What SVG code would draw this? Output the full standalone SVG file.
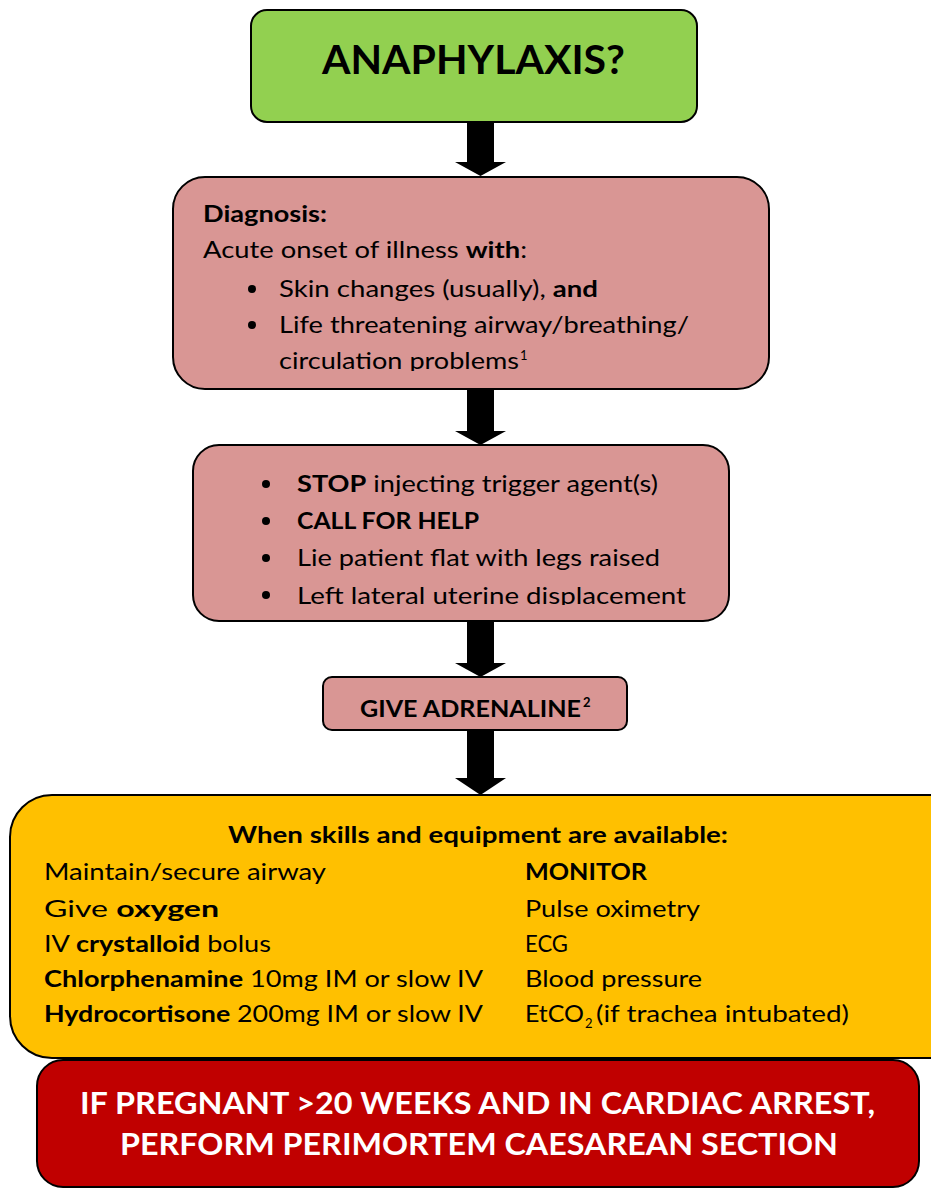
<svg xmlns="http://www.w3.org/2000/svg" width="931" height="1189" viewBox="0 0 931 1189">
<style>
.box{stroke:#000;stroke-width:2}
.t{font-family:Lato,"Liberation Sans",sans-serif;font-size:23px;fill:#000}
.b{font-weight:bold}
.w{fill:#fff}
.s{font-size:13px}
.title{font-size:41px}
.big{font-size:30px}
.mid{font-size:23px}
.arrow{fill:#000}
</style>
<defs>
<clipPath id="clip2"><rect x="173" y="177" width="596" height="194"/></clipPath>
<clipPath id="clip3"><rect x="193" y="445" width="536" height="160"/></clipPath>
</defs>
<rect width="931" height="1189" fill="#fff"/>

<g id="node-anaphylaxis">
<rect class="box" x="251" y="10" width="446" height="112" rx="16" fill="#92d050"/>
<text class="t b title" x="322" y="74" textLength="303" lengthAdjust="spacingAndGlyphs">ANAPHYLAXIS?</text>
</g>

<g id="node-diagnosis">
<rect class="box" x="173" y="177" width="596" height="212" rx="32" fill="#d99694"/>
<g clip-path="url(#clip2)">
<text class="t b" x="203" y="222" textLength="124" lengthAdjust="spacingAndGlyphs">Diagnosis:</text>
<text class="t" x="203" y="258" textLength="324" lengthAdjust="spacingAndGlyphs">Acute onset of illness <tspan class="b">with</tspan>:</text>
<circle cx="252" cy="289" r="4"/>
<text class="t" x="279" y="297" textLength="319" lengthAdjust="spacingAndGlyphs">Skin changes (usually), <tspan class="b">and</tspan></text>
<circle cx="252" cy="325" r="4"/>
<text class="t" x="279" y="333" textLength="410" lengthAdjust="spacingAndGlyphs">Life threatening airway/breathing/</text>
<text class="t" x="279" y="369" textLength="240" lengthAdjust="spacingAndGlyphs">circulation problems</text>
<text class="t s" x="520" y="360">1</text>
</g>
</g>

<g id="node-actions">
<rect class="box" x="193" y="445" width="536" height="176" rx="26" fill="#d99694"/>
<g clip-path="url(#clip3)">
<circle cx="266" cy="484" r="4"/>
<text class="t" x="297" y="492" textLength="361" lengthAdjust="spacingAndGlyphs"><tspan class="b">STOP</tspan> injecting trigger agent(s)</text>
<circle cx="266" cy="521" r="4"/>
<text class="t b" x="297" y="529" textLength="182" lengthAdjust="spacingAndGlyphs">CALL FOR HELP</text>
<circle cx="266" cy="558" r="4"/>
<text class="t" x="297" y="566" textLength="363" lengthAdjust="spacingAndGlyphs">Lie patient flat with legs raised</text>
<circle cx="266" cy="595" r="4"/>
<text class="t" x="297" y="604" textLength="389" lengthAdjust="spacingAndGlyphs">Left lateral uterine displacement</text>
</g>
</g>

<g id="node-adrenaline">
<rect class="box" x="323" y="677" width="304" height="53" rx="9" fill="#d99694"/>
<text class="t b mid" x="360" y="717" textLength="221" lengthAdjust="spacingAndGlyphs">GIVE ADRENALINE</text>
<text class="t b s" x="583" y="707">2</text>
</g>

<g id="node-skills">
<rect class="box" x="10" y="795" width="960" height="263" rx="42" fill="#ffc000"/>
<text class="t b" x="228" y="843" textLength="500" lengthAdjust="spacingAndGlyphs">When skills and equipment are available:</text>
<text class="t" x="44" y="880" textLength="282" lengthAdjust="spacingAndGlyphs">Maintain/secure airway</text>
<text class="t" x="44" y="917" textLength="175" lengthAdjust="spacingAndGlyphs">Give <tspan class="b">oxygen</tspan></text>
<text class="t" x="44" y="952" textLength="227" lengthAdjust="spacingAndGlyphs">IV <tspan class="b">crystalloid</tspan> bolus</text>
<text class="t" x="44" y="987" textLength="439" lengthAdjust="spacingAndGlyphs"><tspan class="b">Chlorphenamine</tspan> 10mg IM or slow IV</text>
<text class="t" x="44" y="1022" textLength="439" lengthAdjust="spacingAndGlyphs"><tspan class="b">Hydrocortisone</tspan> 200mg IM or slow IV</text>
<text class="t b" x="525" y="880" textLength="122" lengthAdjust="spacingAndGlyphs">MONITOR</text>
<text class="t" x="525" y="917" textLength="175" lengthAdjust="spacingAndGlyphs">Pulse oximetry</text>
<text class="t" x="525" y="952" textLength="43" lengthAdjust="spacingAndGlyphs">ECG</text>
<text class="t" x="525" y="987" textLength="177" lengthAdjust="spacingAndGlyphs">Blood pressure</text>
<text class="t" x="525" y="1022" textLength="59" lengthAdjust="spacingAndGlyphs">EtCO</text>
<text class="t s" x="585" y="1028">2</text>
<text class="t" x="596" y="1022" textLength="253" lengthAdjust="spacingAndGlyphs">(if trachea intubated)</text>
</g>

<g id="node-caesarean">
<rect class="box" x="37" y="1060" width="882" height="127" rx="26" fill="#c00000"/>
<text class="t b w big" x="80" y="1114" textLength="795" lengthAdjust="spacingAndGlyphs">IF PREGNANT &gt;20 WEEKS AND IN CARDIAC ARREST,</text>
<text class="t b w big" x="120" y="1155" textLength="718" lengthAdjust="spacingAndGlyphs">PERFORM PERIMORTEM CAESAREAN SECTION</text>
</g>

<g id="connectors">
<polygon class="arrow" points="467,122 494,122 494,162 506,162 480.5,176 455,162 467,162"/>
<polygon class="arrow" points="467,389 494,389 494,431 506,431 480.5,445 455,431 467,431"/>
<polygon class="arrow" points="467,621 494,621 494,663 506,663 480.5,677 455,663 467,663"/>
<polygon class="arrow" points="467,730 494,730 494,778 506,778 480.5,795 455,778 467,778"/>
</g>
</svg>
